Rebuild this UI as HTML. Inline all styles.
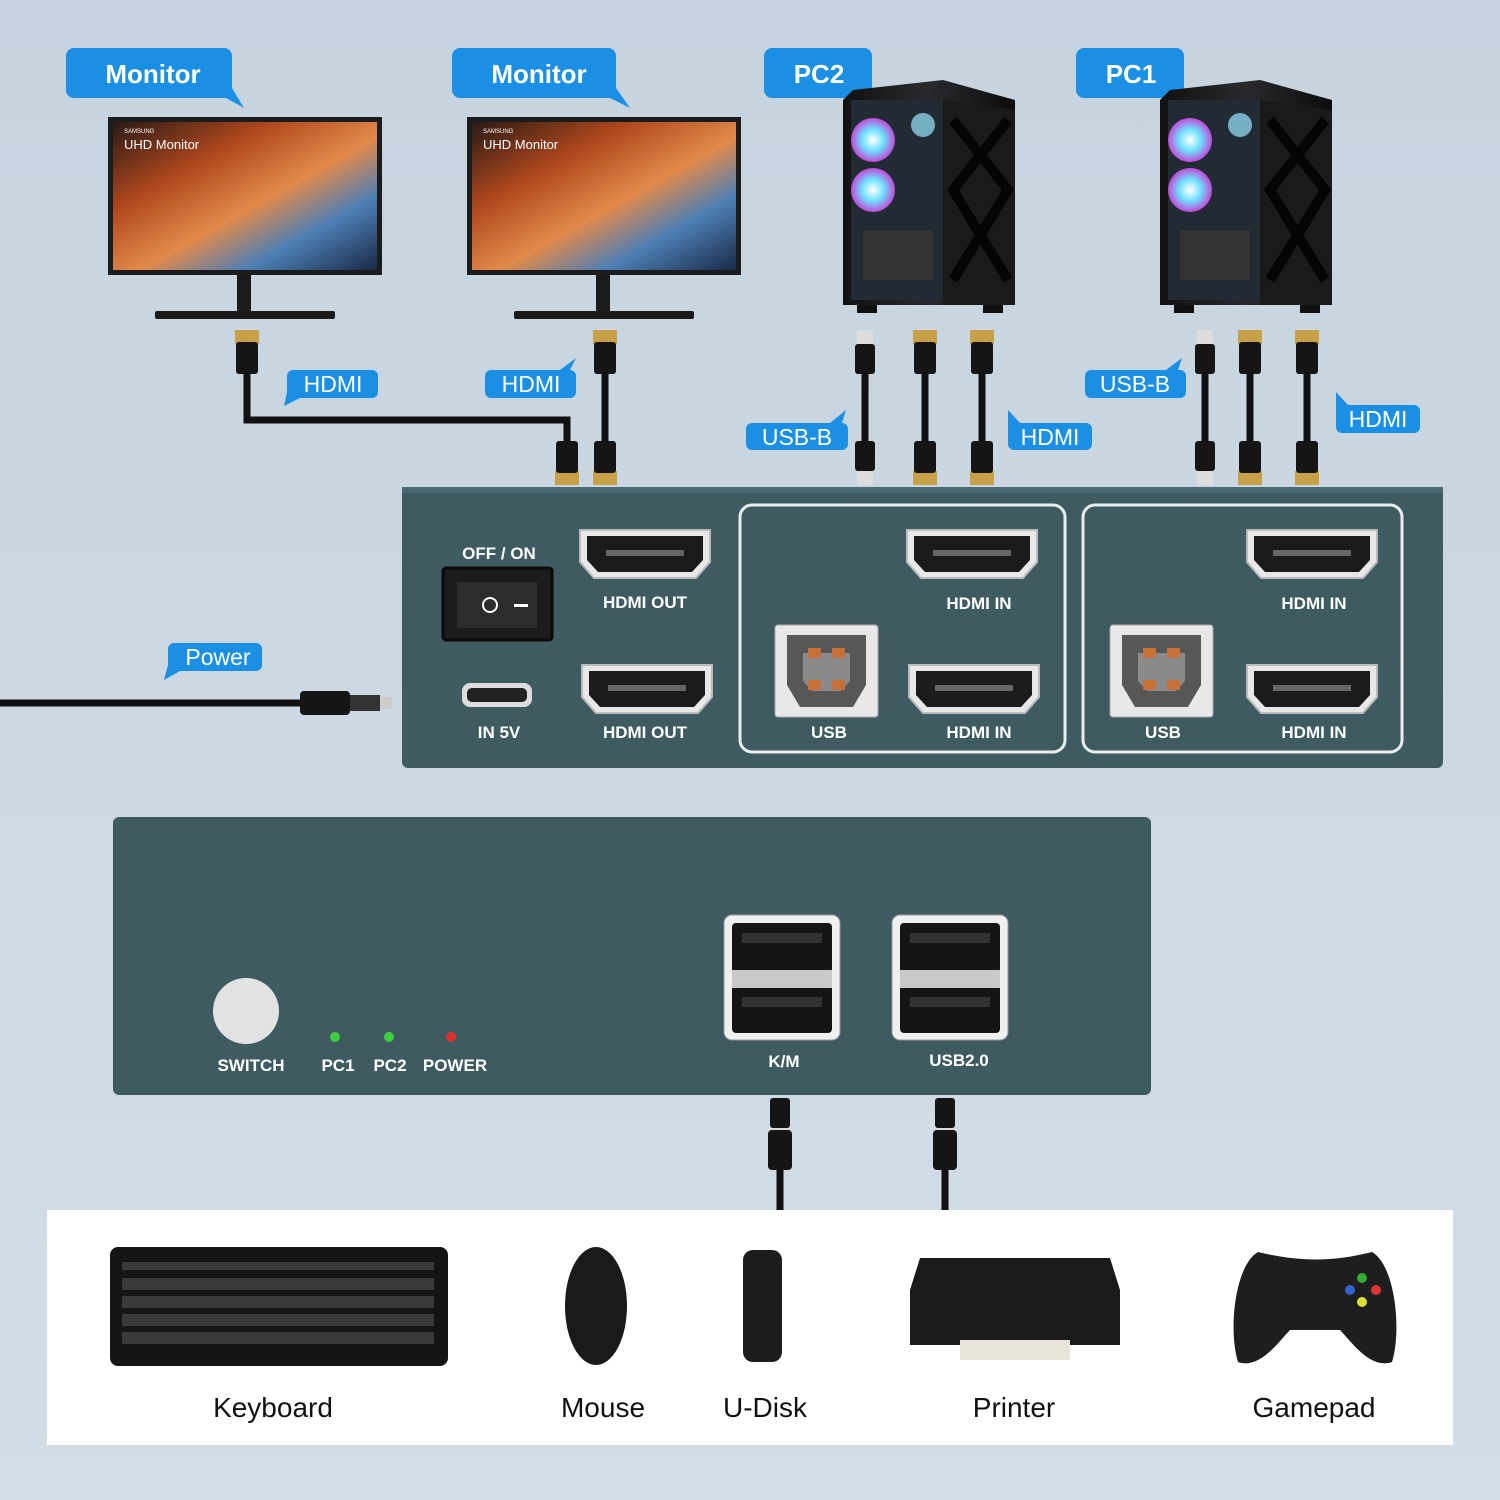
<!DOCTYPE html>
<html><head><meta charset="utf-8"><style>
html,body{margin:0;padding:0;width:1500px;height:1500px;overflow:hidden}
svg{display:block}
text{font-family:"Liberation Sans",sans-serif}
</style></head><body>
<svg width="1500" height="1500" viewBox="0 0 1500 1500" xmlns="http://www.w3.org/2000/svg">
<defs>
<linearGradient id="bg" x1="0" y1="0" x2="0" y2="1"><stop offset="0" stop-color="#c5d4e0"/><stop offset="1" stop-color="#d3dde6"/></linearGradient>
<linearGradient id="scr" x1="0" y1="0" x2="1" y2="1"><stop offset="0" stop-color="#2a1a14"/><stop offset="0.3" stop-color="#b0481e"/><stop offset="0.55" stop-color="#e28a4a"/><stop offset="0.75" stop-color="#4d7fb5"/><stop offset="1" stop-color="#1b2a48"/></linearGradient>
<linearGradient id="pcg" x1="0" y1="0" x2="1" y2="0"><stop offset="0" stop-color="#111"/><stop offset="0.5" stop-color="#2a2a2e"/><stop offset="1" stop-color="#0c0c0c"/></linearGradient>
<radialGradient id="fan"><stop offset="0" stop-color="#fff"/><stop offset="0.5" stop-color="#6ee0ff"/><stop offset="1" stop-color="#c04bd8"/></radialGradient>
<g id="hdmi">
<path d="M2,2 H132 V34 L118,50 H16 L2,34 Z" fill="#e8e8e8" stroke="#bbb" stroke-width="2"/>
<path d="M9,8 H125 V32 L114,44 H20 L9,32 Z" fill="#1b1b1b"/>
<rect x="28" y="22" width="78" height="6" fill="#666"/>
</g>
<g id="usbb">
<rect x="0" y="0" width="103" height="92" rx="3" fill="#e8e8e8" stroke="#aaa"/>
<path d="M12,10 H91 V60 L78,82 H25 L12,60 Z" fill="#575757"/>
<path d="M28,28 H75 V56 L66,66 H37 L28,56 Z" fill="#8a8a8a"/>
<rect x="33" y="23" width="13" height="10" fill="#c6703a"/><rect x="57" y="23" width="13" height="10" fill="#c6703a"/>
<rect x="33" y="55" width="13" height="10" fill="#c6703a"/><rect x="57" y="55" width="13" height="10" fill="#c6703a"/>
</g>
<g id="hplug"><rect x="-12" y="0" width="24" height="14" fill="#c8a048"/><rect x="-11" y="12" width="22" height="32" rx="3" fill="#151515"/></g>
<g id="hplugu"><rect x="-12" y="30" width="24" height="14" fill="#c8a048"/><rect x="-11" y="0" width="22" height="32" rx="3" fill="#151515"/></g>
<g id="uplug"><rect x="-8" y="0" width="16" height="16" fill="#ddd"/><rect x="-10" y="14" width="20" height="30" rx="3" fill="#151515"/></g>
<g id="uplugu"><rect x="-8" y="28" width="16" height="16" fill="#ddd"/><rect x="-10" y="0" width="20" height="30" rx="3" fill="#151515"/></g>
<g id="usba">
<rect x="0" y="0" width="116" height="125" rx="8" fill="#f0f0f0" stroke="#999"/>
<rect x="8" y="8" width="100" height="50" rx="4" fill="#151515"/>
<rect x="8" y="70" width="100" height="48" rx="4" fill="#151515"/>
<rect x="8" y="55" width="100" height="18" fill="#c9c9c9"/>
<rect x="18" y="18" width="80" height="10" fill="#333"/><rect x="18" y="82" width="80" height="10" fill="#333"/>
</g>
<g id="mon">
<rect x="0" y="0" width="274" height="158" fill="#1c1c1c"/>
<rect x="5" y="5" width="264" height="148" fill="url(#scr)"/>
<text x="16" y="16" font-size="6" fill="#fff">SAMSUNG</text>
<text x="16" y="32" font-size="13" fill="#fff">UHD Monitor</text>
<rect x="129" y="158" width="14" height="38" fill="#1a1a1a"/>
<rect x="47" y="194" width="180" height="8" rx="2" fill="#1a1a1a"/>
</g>
<g id="pc">
<path d="M10,10 L100,0 L172,20 V225 H0 V20 Z" fill="url(#pcg)"/>
<rect x="8" y="20" width="92" height="200" fill="#222a33"/>
<circle cx="30" cy="60" r="22" fill="url(#fan)"/>
<circle cx="30" cy="110" r="22" fill="url(#fan)"/>
<circle cx="80" cy="45" r="12" fill="#9be8ff" opacity="0.7"/>
<rect x="20" y="150" width="70" height="50" fill="#333"/>
<path d="M100,20 L172,30 V225 H100 Z" fill="#1a1a1a"/>
<path d="M110,40 L165,110 L110,200 M165,40 L110,110 L165,200" stroke="#050505" stroke-width="10" fill="none"/>
<rect x="14" y="225" width="20" height="8" fill="#111"/><rect x="140" y="225" width="20" height="8" fill="#111"/>
</g>
</defs>
<rect width="1500" height="1500" fill="url(#bg)"/>

<g font-weight="bold" font-size="26" fill="#fff" text-anchor="middle">
<path d="M74,48 H224 a8,8 0 0 1 8,8 V88 L244,108 L226,98 H74 a8,8 0 0 1 -8,-8 V56 a8,8 0 0 1 8,-8Z" fill="#1b8fe3"/>
<text x="153" y="83">Monitor</text>
<path d="M460,48 H608 a8,8 0 0 1 8,8 V88 L630,108 L610,98 H460 a8,8 0 0 1 -8,-8 V56 a8,8 0 0 1 8,-8Z" fill="#1b8fe3"/>
<text x="539" y="83">Monitor</text>
<path d="M772,48 H864 a8,8 0 0 1 8,8 V88 L886,108 L866,98 H772 a8,8 0 0 1 -8,-8 V56 a8,8 0 0 1 8,-8Z" fill="#1b8fe3"/>
<text x="819" y="83">PC2</text>
<path d="M1084,48 H1176 a8,8 0 0 1 8,8 V88 L1198,108 L1178,98 H1084 a8,8 0 0 1 -8,-8 V56 a8,8 0 0 1 8,-8Z" fill="#1b8fe3"/>
<text x="1131" y="83">PC1</text>
</g>

<use href="#mon" x="108" y="117"/>
<use href="#mon" x="467" y="117"/>
<use href="#pc" x="843" y="80"/>
<use href="#pc" x="1160" y="80"/>

<g stroke="#111" stroke-width="7" fill="none">
<path d="M247,372 V420 H567 V446"/>
<path d="M605,372 V446"/>
<path d="M865,372 V446"/><path d="M925,372 V446"/><path d="M982,372 V446"/>
<path d="M1205,372 V446"/><path d="M1250,372 V446"/><path d="M1307,372 V446"/>
<path d="M0,703 H305"/>
<path d="M780,1150 V1210"/><path d="M945,1150 V1210"/>
</g>
<use href="#hplug" x="247" y="330"/><use href="#hplug" x="605" y="330"/>
<use href="#hplugu" x="567" y="441"/><use href="#hplugu" x="605" y="441"/>
<use href="#uplug" x="865" y="330"/><use href="#hplug" x="925" y="330"/><use href="#hplug" x="982" y="330"/>
<use href="#uplugu" x="865" y="441"/><use href="#hplugu" x="925" y="441"/><use href="#hplugu" x="982" y="441"/>
<use href="#uplug" x="1205" y="330"/><use href="#hplug" x="1250" y="330"/><use href="#hplug" x="1307" y="330"/>
<use href="#uplugu" x="1205" y="441"/><use href="#hplugu" x="1250" y="441"/><use href="#hplugu" x="1307" y="441"/>
<rect x="300" y="691" width="50" height="24" rx="4" fill="#151515"/><rect x="350" y="695" width="30" height="16" fill="#333"/><rect x="380" y="697" width="12" height="12" fill="#ccc"/>
<use href="#uplugu" x="780" y="1098"/><use href="#uplugu" x="945" y="1098"/>
<rect x="768" y="1130" width="24" height="40" rx="4" fill="#151515"/>
<rect x="933" y="1130" width="24" height="40" rx="4" fill="#151515"/>

<g font-size="23" fill="#fff" text-anchor="middle">
<path d="M293,370 H372 a6,6 0 0 1 6,6 V392 a6,6 0 0 1 -6,6 H300 L284,406 L287,392 V376 a6,6 0 0 1 6,-6Z" fill="#1b8fe3"/><text x="333" y="392">HDMI</text>
<path d="M491,370 H570 a6,6 0 0 1 6,6 V392 a6,6 0 0 1 -6,6 H491 a6,6 0 0 1 -6,-6 V376 a6,6 0 0 1 6,-6 H560 L576,358 L570,370Z" fill="#1b8fe3"/><text x="531" y="392">HDMI</text>
<path d="M752,423 H842 a6,6 0 0 1 6,6 V444 a6,6 0 0 1 -6,6 H752 a6,6 0 0 1 -6,-6 V429 a6,6 0 0 1 6,-6 H830 L846,410 L842,423Z" fill="#1b8fe3"/><text x="797" y="445">USB-B</text>
<path d="M1014,423 H1086 a6,6 0 0 1 6,6 V444 a6,6 0 0 1 -6,6 H1014 a6,6 0 0 1 -6,-6 V429 L1008,410 L1020,423Z" fill="#1b8fe3"/><text x="1050" y="445">HDMI</text>
<path d="M1091,370 H1180 a6,6 0 0 1 6,6 V392 a6,6 0 0 1 -6,6 H1091 a6,6 0 0 1 -6,-6 V376 a6,6 0 0 1 6,-6 H1166 L1182,358 L1178,370Z" fill="#1b8fe3"/><text x="1135" y="392">USB-B</text>
<path d="M1342,405 H1414 a6,6 0 0 1 6,6 V427 a6,6 0 0 1 -6,6 H1342 a6,6 0 0 1 -6,-6 V411 L1336,392 L1348,405Z" fill="#1b8fe3"/><text x="1378" y="427">HDMI</text>
<path d="M174,643 H256 a6,6 0 0 1 6,6 V665 a6,6 0 0 1 -6,6 H180 L164,680 L168,665 V649 a6,6 0 0 1 6,-6Z" fill="#1b8fe3"/><text x="218" y="665">Power</text>
</g>

<rect x="402" y="487" width="1041" height="281" rx="6" fill="#3e5b62"/>
<rect x="402" y="487" width="1041" height="6" fill="#4a6a72"/>
<rect x="740" y="505" width="325" height="247" rx="12" fill="none" stroke="#e8eef0" stroke-width="3"/>
<rect x="1083" y="505" width="319" height="247" rx="12" fill="none" stroke="#e8eef0" stroke-width="3"/>
<rect x="443" y="568" width="109" height="72" rx="3" fill="#1c1c1c" stroke="#0a0a0a" stroke-width="3"/>
<rect x="457" y="582" width="80" height="46" fill="#2c2c2c"/>
<circle cx="490" cy="605" r="7" fill="none" stroke="#fff" stroke-width="2"/>
<rect x="514" y="604" width="14" height="3" fill="#fff"/>
<rect x="462" y="683" width="70" height="24" rx="8" fill="#ddd"/><rect x="467" y="688" width="60" height="14" rx="5" fill="#222"/>
<use href="#hdmi" x="578" y="528"/><use href="#hdmi" x="580" y="663"/>
<use href="#hdmi" x="905" y="528"/><use href="#hdmi" x="907" y="663"/>
<use href="#hdmi" x="1245" y="528"/><use href="#hdmi" x="1245" y="663"/>
<use href="#usbb" x="775" y="625"/><use href="#usbb" x="1110" y="625"/>
<g font-weight="bold" font-size="17" fill="#fff" text-anchor="middle">
<text x="499" y="559">OFF / ON</text>
<text x="645" y="608">HDMI OUT</text><text x="645" y="738">HDMI OUT</text>
<text x="979" y="609">HDMI IN</text><text x="979" y="738">HDMI IN</text>
<text x="1314" y="609">HDMI IN</text><text x="1314" y="738">HDMI IN</text>
<text x="829" y="738">USB</text><text x="1163" y="738">USB</text>
<text x="499" y="738">IN 5V</text>
</g>

<rect x="113" y="817" width="1038" height="278" rx="6" fill="#3e5b62"/>
<circle cx="246" cy="1011" r="33" fill="#e2e2e2"/>
<circle cx="335" cy="1037" r="5" fill="#3ecf3e"/><circle cx="389" cy="1037" r="5" fill="#3ecf3e"/><circle cx="451" cy="1037" r="5" fill="#e03030"/>
<use href="#usba" x="724" y="915"/><use href="#usba" x="892" y="915"/>
<g font-weight="bold" font-size="17" fill="#fff" text-anchor="middle">
<text x="251" y="1071">SWITCH</text><text x="338" y="1071">PC1</text><text x="390" y="1071">PC2</text><text x="455" y="1071">POWER</text>
<text x="784" y="1067">K/M</text><text x="959" y="1066">USB2.0</text>
</g>

<rect x="47" y="1210" width="1406" height="235" fill="#fff"/>
<rect x="110" y="1247" width="338" height="119" rx="8" fill="#151515"/>
<g fill="#3a3a3a">
<rect x="122" y="1262" width="312" height="8"/><rect x="122" y="1278" width="312" height="12"/><rect x="122" y="1296" width="312" height="12"/><rect x="122" y="1314" width="312" height="12"/><rect x="122" y="1332" width="312" height="12"/>
</g>
<ellipse cx="596" cy="1306" rx="31" ry="59" fill="#1a1a1a"/>
<rect x="743" y="1250" width="39" height="112" rx="10" fill="#1c1c1c"/>
<path d="M920,1258 H1110 L1120,1290 V1345 H910 V1290Z" fill="#1a1a1a"/>
<rect x="960" y="1340" width="110" height="20" fill="#e8e4d8"/>
<path d="M1258,1252 C1300,1262 1332,1262 1372,1252 C1395,1265 1402,1330 1392,1362 C1370,1370 1350,1340 1340,1330 H1290 C1280,1340 1260,1370 1238,1362 C1228,1330 1235,1265 1258,1252Z" fill="#1e1e1e"/>
<circle cx="1362" cy="1278" r="5" fill="#3a3"/><circle cx="1376" cy="1290" r="5" fill="#d33"/><circle cx="1350" cy="1290" r="5" fill="#36c"/><circle cx="1362" cy="1302" r="5" fill="#dd3"/>
<g font-size="28" fill="#111" text-anchor="middle">
<text x="273" y="1417">Keyboard</text><text x="603" y="1417">Mouse</text><text x="765" y="1417">U-Disk</text><text x="1014" y="1417">Printer</text><text x="1314" y="1417">Gamepad</text>
</g>
</svg>
</body></html>
